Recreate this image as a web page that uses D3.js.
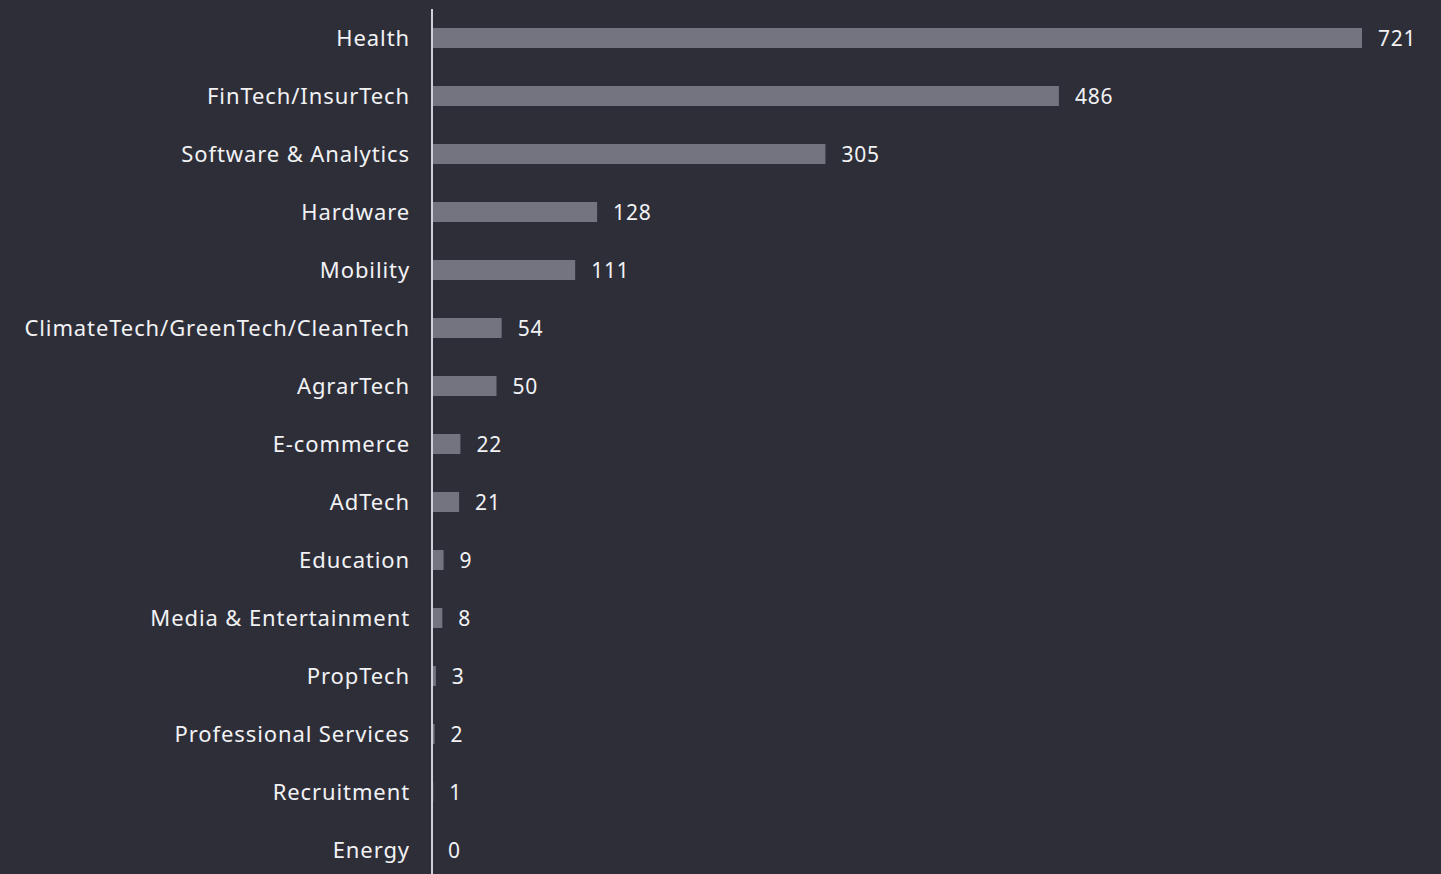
<!DOCTYPE html>
<html>
<head>
<meta charset="utf-8">
<script src="https://cdn.jsdelivr.net/npm/d3@7"></script>
<style>
  html, body { margin: 0; padding: 0; background: #2e2e38; }
  svg { display: block; }
  text { font-family: "Noto Sans", "DejaVu Sans", sans-serif; fill: #f2f2f5; }
</style>
</head>
<body>
<svg id="chart" width="1441" height="874"></svg>
<script>
// Sectors and counts, sorted descending
const categories = [
  "Health", "FinTech/InsurTech", "Software & Analytics", "Hardware", "Mobility",
  "ClimateTech/GreenTech/CleanTech", "AgrarTech", "E-commerce", "AdTech", "Education",
  "Media & Entertainment", "PropTech", "Professional Services", "Recruitment", "Energy"
];
const values = [721, 486, 305, 128, 111, 54, 50, 22, 21, 9, 8, 3, 2, 1, 0];

const W = 1441, H = 874;
const axisX = 432;
const svg = d3.select("#chart");

const data = categories.map((c, i) => ({ cat: c, val: values[i] }));

const x = d3.scaleLinear().domain([0, 721]).range([axisX, 1362]);
const y = d3.scaleBand().domain(categories).range([9, 9 + 58 * categories.length])
  .paddingInner(0.655).paddingOuter(0.3275);

// Bars
svg.append("g").selectAll("rect").data(data).join("rect")
  .attr("x", x(0))
  .attr("y", d => y(d.cat))
  .attr("width", d => x(d.val) - x(0))
  .attr("height", y.bandwidth())
  .attr("fill", "#747480");

// Value labels
svg.append("g").selectAll("text").data(data).join("text")
  .attr("x", d => x(d.val) + 16)
  .attr("y", d => y(d.cat) + y.bandwidth() / 2 + 1)
  .attr("dy", "0.35em")
  .attr("font-size", 21)
  .attr("letter-spacing", "0.8px")
  .text(d => d.val);

// Category axis on the left
const yAxis = d3.axisLeft(y).tickSize(0).tickPadding(22);
const gAxis = svg.append("g").attr("transform", `translate(${axisX},1)`).call(yAxis);
gAxis.select(".domain").remove();
gAxis.selectAll("text")
  .attr("font-size", 22)
  .attr("letter-spacing", "0.9px")
  .style("font-family", '"Noto Sans", "DejaVu Sans", sans-serif')
  .attr("fill", "#f2f2f5");

// Vertical baseline
svg.append("line")
  .attr("x1", axisX).attr("x2", axisX)
  .attr("y1", 9).attr("y2", H)
  .attr("stroke", "#d0d0d8").attr("stroke-width", 2);
</script>
</body>
</html>
